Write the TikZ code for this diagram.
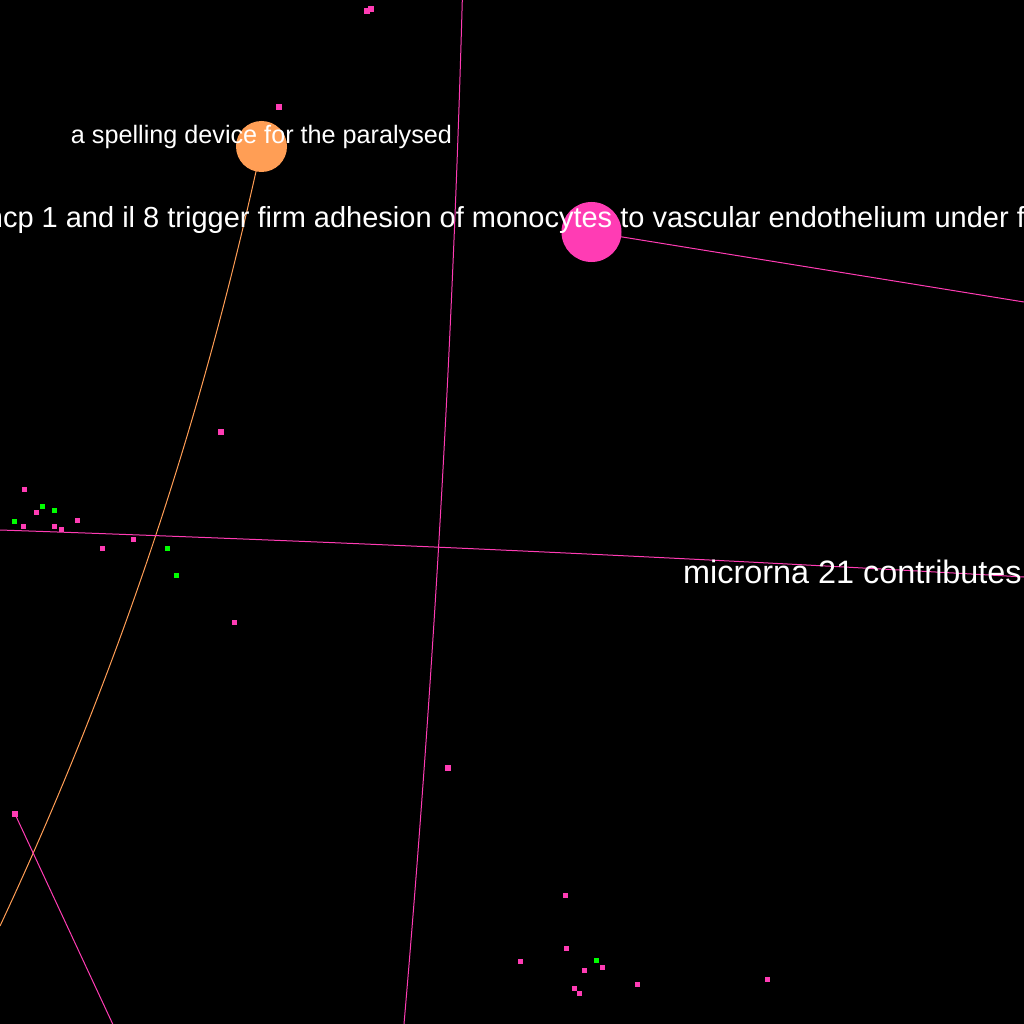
\documentclass[tikz,border=0pt]{standalone}
\usepackage{fontspec}
\setmainfont{Liberation Sans}
\usetikzlibrary{backgrounds}
\definecolor{pinkc}{HTML}{FF3CB4}
\definecolor{orangec}{HTML}{FF9E55}
\definecolor{greenc}{HTML}{00FF00}
\tikzset{
  bignode/.style={circle, draw=none, inner sep=0pt},
  dotp/.style={rectangle, fill=pinkc, draw=none, inner sep=0pt, minimum size=5.5pt},
  dotg/.style={rectangle, fill=greenc, draw=none, inner sep=0pt, minimum size=5.5pt},
  lab/.style={text=white, inner sep=0pt},
  edgep/.style={draw=pinkc, line width=1pt},
  edgeo/.style={draw=orangec, line width=1pt}
}
\begin{document}
\begin{tikzpicture}[x=1pt,y=-1pt]
\useasboundingbox (0,0) rectangle (1024,1024);
\clip (0,0) rectangle (1024,1024);
% big nodes
\node[bignode, fill=orangec, minimum size=51pt] (spell) at (261.5,146.5) {};
\node[bignode, fill=pinkc, minimum size=60pt] (mcp) at (591.5,232) {};
% small dots
\node[dotp] (d1) at (24.3,489.3) {};
\node[dotg] (d2) at (42.3,506.3) {};
\node[dotp] (d3) at (36.3,512.3) {};
\node[dotg] (d4) at (54.3,510.3) {};
\node[dotg] (d5) at (14.3,521.3) {};
\node[dotp] (d6) at (23.3,526.3) {};
\node[dotp] (d7) at (54.3,526.3) {};
\node[dotp] (d8) at (61.3,529.3) {};
\node[dotp] (d9) at (77.3,520.3) {};
\node[dotp] (d10) at (102.3,548.3) {};
\node[dotp] (d11) at (133.3,539.3) {};
\node[dotg] (d12) at (167.3,548.3) {};
\node[dotg] (d13) at (176.3,575.3) {};
\node[dotp] (d14) at (234.3,622.3) {};
\node[dotp] (d15) at (221,432) {};
\node[dotp] (d16) at (279,107) {};
\node[dotp] (d17) at (367,11) {};
\node[dotp] (d18) at (371,9) {};
\node[dotp] (d19) at (448,768) {};
\node[dotp] (d20) at (15,814) {};
\node[dotp] (d21) at (565.3,895.3) {};
\node[dotp] (d22) at (566.3,948.3) {};
\node[dotp] (d23) at (520.3,961.3) {};
\node[dotg] (d24) at (596.3,960.3) {};
\node[dotp] (d25) at (584.3,970.3) {};
\node[dotp] (d26) at (602.3,967.3) {};
\node[dotp] (d27) at (574.3,988.3) {};
\node[dotp] (d28) at (579.3,993.3) {};
\node[dotp] (d29) at (637.3,984.3) {};
\node[dotp] (d30) at (767.3,979.3) {};
% labels
\node[lab, anchor=base, font=\fontsize{25.2}{30}\selectfont] (spellL) at (261.5,143.5) {a spelling device for the paralysed};
\node[lab, anchor=base, font=\fontsize{29}{34}\selectfont] (mcpL) at (593,227) {mcp 1 and il 8 trigger firm adhesion of monocytes to vascular endothelium under flow conditions};
\node[lab, anchor=base west, font=\fontsize{32.4}{38}\selectfont] (mirL) at (683,583) {microrna 21 contributes};
% free ends
\coordinate (e1) at (0,926);
\coordinate (e2) at (462.3,0);
\coordinate (e3) at (404,1024);
\coordinate (e4) at (0,530);
\coordinate (e5) at (1024,577);
\coordinate (e6) at (1024,302);
\coordinate (e7) at (112.7,1024);
\begin{scope}[on background layer]
  \clip (0,0) rectangle (1024,1024);
  \fill[black] (0,0) rectangle (1024,1024);
  \draw[edgeo] (spell.center) .. controls (199.3,432.7) and (113.3,684) .. (e1);
  \draw[edgep] (e2) .. controls (452.8,342) and (433.3,683.3) .. (e3);
  \draw[edgep] (e4) .. controls (341.3,541.7) and (682.7,557.3) .. (e5);
  \draw[edgep] (mcp.center) -- (e6);
  \draw[edgep] (d20.center) -- (e7);
\end{scope}
\end{tikzpicture}
\end{document}
